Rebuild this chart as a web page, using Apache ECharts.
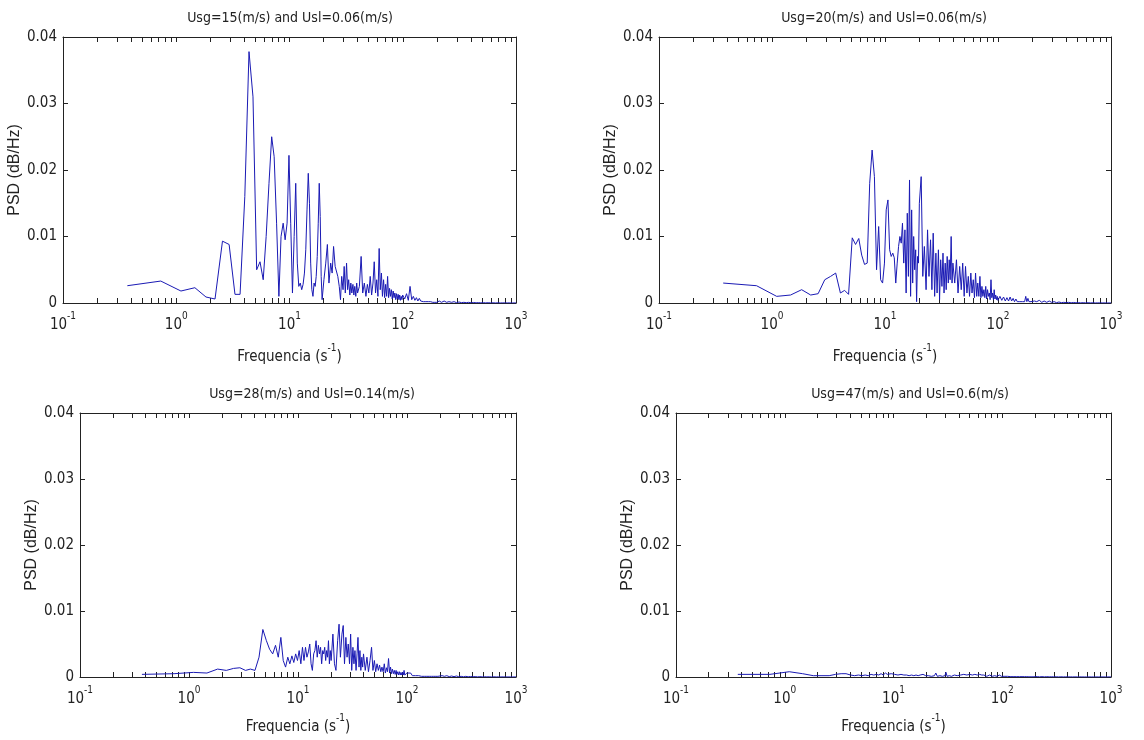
<!DOCTYPE html>
<html>
<head>
<meta charset="utf-8">
<script src="https://cdn.jsdelivr.net/npm/echarts@6/dist/echarts.min.js"></script>
<style>
html,body{margin:0;padding:0;background:#fff;}
#chart{width:1144px;height:740px;}
</style>
</head>
<body>
<div id="chart"></div>
<script>
// ---------- DATA ----------
const titles = [
  'Usg=15(m/s) and Usl=0.06(m/s)',
  'Usg=20(m/s) and Usl=0.06(m/s)',
  'Usg=28(m/s) and Usl=0.14(m/s)',
  'Usg=47(m/s) and Usl=0.6(m/s)'
];
const xName = 'Frequencia (s';
const xNameExp = '-1';
const yName = 'PSD (dB/Hz)';
const xMajorTicks = [0.1, 1, 10, 100, 1000];
const xMinorTicks = [0.2,0.3,0.4,0.5,0.6,0.7,0.8,0.9,1,2,3,4,5,6,7,8,9,10,20,30,40,50,60,70,80,90,100,200,300,400,500,600,700,800,900];
const yTicks = [0, 0.01, 0.02, 0.03, 0.04];

const freq = [
  0.37,0.73,1.10,1.46,1.83,2.20,2.56,2.93,3.30,3.66,4.03,4.39,4.76,5.13,5.49,5.86,6.22,6.59,6.96,7.32,7.69,8.06,8.42,8.79,9.15,9.52,9.89,
  10.25,10.62,10.99,11.35,11.72,12.08,12.45,12.82,13.18,13.55,13.92,14.28,14.65,15.01,15.38,15.75,16.11,16.48,16.85,17.21,17.58,17.94,18.31,18.68,19.04,19.41,19.78,20.14,
  20.9,21.6,22.3,23.1,23.8,24.5,25.3,26.0,26.7,27.5,28.2,28.9,29.7,30.4,31.1,31.9,32.6,33.3,34.1,34.8,35.5,36.3,37.0,37.7,38.5,39.2,39.9,
  41.4,42.9,44.3,45.8,47.3,48.7,50.2,51.6,53.1,54.6,56.0,57.5,58.9,60.4,61.9,63.3,64.8,66.2,67.7,69.2,70.6,72.1,73.5,75.0,76.5,77.9,79.4,80.8,82.3,83.8,85.2,86.7,88.1,89.6,91.1,92.5,94.0,95.4,96.9,98.4,99.8,
  104,108,112,116,120,124,128,132,136,140,144,148,152,156,160,164,168,172,176,180,184,188,192,196,200,
  210,220,232,244,256,270,284,298,314,330,346,364,382,402,422,444,466,490,515,540,568,597,627,659,692,727,764,803,844,887,932,980,1000
];

const psd15 = [
  0.0026,0.0033,0.0018,0.0023,0.0009,0.0006,0.0093,0.0088,0.0013,0.0013,0.0160,0.0378,0.0310,0.0050,0.0062,0.0035,0.0100,0.0180,0.0250,0.0220,0.0120,0.0010,0.0100,0.0120,0.0095,0.0120,0.0222,
  0.0120,0.0015,0.0100,0.0180,0.0060,0.0025,0.0030,0.0020,0.0028,0.0045,0.0080,0.0140,0.0195,0.0150,0.0060,0.0020,0.0010,0.0030,0.0025,0.0040,0.0070,0.0120,0.0180,0.0130,0.0040,0.0005,0.0002,0.0035,
  0.0060,0.0088,0.0030,0.0060,0.0045,0.0085,0.0055,0.0058,0.0040,0.0025,0.0005,0.0040,0.0020,0.0055,0.0015,0.0060,0.0020,0.0035,0.0012,0.0030,0.0015,0.0028,0.0012,0.0025,0.0010,0.0030,0.0015,
  0.0025,0.0070,0.0015,0.0030,0.0010,0.0028,0.0015,0.0040,0.0012,0.0030,0.0062,0.0015,0.0035,0.0010,0.0082,0.0020,0.0045,0.0010,0.0035,0.0008,0.0028,0.0010,0.0040,0.0008,0.0022,0.0010,0.0020,0.0006,0.0018,0.0008,0.0015,0.0005,0.0014,0.0006,0.0013,0.0005,0.0012,0.0004,0.0010,0.0005,0.0012,
  0.0006,0.0014,0.0004,0.0025,0.0005,0.0010,0.0004,0.0008,0.0003,0.0007,0.0003,0.0006,0.0002,0.0005,0.0002,0.0005,0.0002,0.0004,0.0002,0.0004,0.0001,0.0003,0.0001,0.0003,0.0001,
  0.0003,0.0001,0.0003,0.0001,0.0002,0.0001,0.0002,0.00005,0.00015,0.00005,0.0001,0.00005,0.0001,0.00003,0.00008,0.00003,0.00006,0.00002,0.00005,0.00002,0.00004,0.00002,0.00003,0.00001,0.00003,0.00001,0.00002,0.00001,0.00002,0.00001,0.00001,0.00001,0.00001
];

const psd20 = [
  0.0030,0.0026,0.0010,0.0012,0.0020,0.0012,0.0014,0.0035,0.0040,0.0045,0.0015,0.0019,0.0013,0.0098,0.0088,0.0097,0.0072,0.0058,0.0060,0.0180,0.0230,0.0190,0.0050,0.0115,0.0035,0.0030,0.0060,
  0.0140,0.0155,0.0080,0.0070,0.0075,0.0068,0.0030,0.0060,0.0085,0.0100,0.0090,0.0120,0.0060,0.0110,0.0015,0.0135,0.0040,0.0185,0.0010,0.0140,0.0030,0.0100,0.0050,0.0080,0.0002,0.0070,0.0060,0.0150,
  0.0190,0.0040,0.0085,0.0020,0.0110,0.0040,0.0095,0.0020,0.0105,0.0010,0.0075,0.0015,0.0080,0.0005,0.0065,0.0025,0.0075,0.0015,0.0060,0.0020,0.0070,0.0030,0.0065,0.0035,0.0100,0.0030,0.0060,
  0.0030,0.0065,0.0015,0.0055,0.0020,0.0060,0.0010,0.0055,0.0015,0.0040,0.0010,0.0045,0.0015,0.0035,0.0008,0.0045,0.0010,0.0030,0.0010,0.0040,0.0008,0.0025,0.0010,0.0020,0.0008,0.0025,0.0006,0.0020,0.0010,0.0015,0.0005,0.0035,0.0008,0.0015,0.0005,0.0020,0.0006,0.0012,0.0005,0.0010,0.0004,
  0.0010,0.0004,0.0009,0.0003,0.0008,0.0003,0.0009,0.0003,0.0007,0.0002,0.0006,0.0002,0.0005,0.0002,0.0005,0.0002,0.0004,0.0002,0.0010,0.0002,0.0007,0.0002,0.0005,0.0002,0.0004,
  0.0003,0.0002,0.0004,0.0001,0.0003,0.0001,0.0003,0.0001,0.0002,0.00005,0.00015,0.00005,0.0001,0.00005,0.0001,0.00003,0.00008,0.00003,0.00006,0.00002,0.00005,0.00002,0.00004,0.00002,0.00003,0.00001,0.00002,0.00001,0.00002,0.00001,0.00001,0.00001,0.00001
];

const psd28 = [
  0.0004,0.0005,0.0007,0.0006,0.0012,0.0010,0.0013,0.0014,0.0010,0.0012,0.0010,0.0030,0.0072,0.0055,0.0042,0.0035,0.0048,0.0030,0.0060,0.0025,0.0015,0.0030,0.0020,0.0032,0.0022,0.0035,0.0025,
  0.0040,0.0020,0.0045,0.0025,0.0045,0.0030,0.0038,0.0050,0.0020,0.0010,0.0035,0.0040,0.0055,0.0030,0.0048,0.0035,0.0045,0.0020,0.0040,0.0035,0.0045,0.0025,0.0040,0.0030,0.0055,0.0020,0.0040,0.0025,
  0.0065,0.0020,0.0010,0.0055,0.0080,0.0030,0.0065,0.0078,0.0020,0.0060,0.0030,0.0050,0.0020,0.0065,0.0010,0.0045,0.0020,0.0040,0.0010,0.0035,0.0060,0.0015,0.0040,0.0010,0.0030,0.0015,0.0035,
  0.0010,0.0030,0.0008,0.0025,0.0045,0.0010,0.0025,0.0008,0.0020,0.0010,0.0018,0.0008,0.0015,0.0008,0.0020,0.0006,0.0014,0.0008,0.0028,0.0006,0.0015,0.0005,0.0012,0.0005,0.0010,0.0004,0.0010,0.0004,0.0008,0.0003,0.0008,0.0003,0.0007,0.0003,0.0007,0.0003,0.0010,0.0003,0.0006,0.0002,0.0006,
  0.0003,0.0006,0.0002,0.0005,0.0002,0.0005,0.0002,0.0004,0.0001,0.0004,0.0001,0.0003,0.0001,0.0003,0.0001,0.0003,0.0001,0.0002,0.0001,0.0003,0.0001,0.0002,0.0001,0.0002,0.0001,
  0.0002,0.0001,0.0002,0.00005,0.00015,0.00005,0.00015,0.00005,0.0001,0.00003,0.0001,0.00003,0.00008,0.00003,0.00006,0.00002,0.00005,0.00002,0.00004,0.00002,0.00003,0.00001,0.00003,0.00001,0.00002,0.00001,0.00002,0.00001,0.00001,0.00001,0.00001,0.00001,0.00001
];

const psd47 = [
  0.0004,0.0004,0.0008,0.0005,0.0002,0.0002,0.0002,0.0004,0.0005,0.0005,0.0003,0.0002,0.0003,0.0002,0.0003,0.0002,0.0004,0.0003,0.0004,0.0003,0.0005,0.0003,0.0006,0.0004,0.0007,0.0005,0.0008,
  0.0004,0.0007,0.0003,0.0006,0.0004,0.0007,0.0003,0.0005,0.0003,0.0006,0.0002,0.0005,0.0003,0.0006,0.0002,0.0004,0.0003,0.0005,0.0002,0.0004,0.0003,0.0005,0.0002,0.0004,0.0002,0.0003,0.0002,0.0004,
  0.0002,0.0005,0.0001,0.0004,0.0002,0.0006,0.0001,0.0004,0.0002,0.0003,0.0001,0.0004,0.0002,0.0007,0.0001,0.0004,0.0002,0.0003,0.0001,0.0004,0.0002,0.0003,0.0001,0.0003,0.0002,0.0004,0.0001,
  0.0003,0.0001,0.0004,0.0002,0.0003,0.0001,0.0004,0.0001,0.0003,0.0002,0.0004,0.0001,0.0003,0.0001,0.0004,0.0002,0.0003,0.0001,0.0003,0.0001,0.0004,0.0001,0.0003,0.0001,0.0003,0.0001,0.0002,0.0001,0.0003,0.0001,0.0002,0.0001,0.0003,0.0001,0.0002,0.0001,0.0003,0.0001,0.0002,0.0001,0.0003,
  0.0001,0.0003,0.0001,0.0002,0.00005,0.0002,0.00005,0.0002,0.00005,0.00015,0.00005,0.00015,0.00005,0.0001,0.00005,0.0001,0.00005,0.0001,0.00003,0.0001,0.00003,0.00008,0.00003,0.00008,0.00003,
  0.00006,0.00002,0.00005,0.00002,0.00005,0.00002,0.00004,0.00002,0.00004,0.00001,0.00003,0.00001,0.00003,0.00001,0.00002,0.00001,0.00002,0.00001,0.00002,0.00001,0.00001,0.00001,0.00001,0.00001,0.00001,0.00001,0.00001,0.00001,0.00001,0.00001,0.00001,0.00001,0.00001
];

const seriesValues = [psd15, psd20, psd28, psd47];

// ---------- LAYOUT / STYLE ----------
const NARROW = "'Liberation Sans Narrow','DejaVu Sans Condensed','Arial Narrow','Liberation Sans',sans-serif";
const SANS = "'Liberation Sans',Arial,sans-serif";
const INK = '#222';
const LINE = '#1a1ab4';
const grids = [
  {left: 63, top: 37, width: 453, height: 266},
  {left: 659, top: 37, width: 452, height: 266},
  {left: 80, top: 413, width: 436, height: 264},
  {left: 676, top: 413, width: 435, height: 264}
];
const titlePos = [[290, 18], [884, 18], [312, 394], [910, 394]];
const xNameGaps = [40, 40, 36, 36];

const xAxes = [], yAxes = [], series = [], graphics = [];
grids.forEach((g, i) => {
  const common = {
    type: 'log', logBase: 10, gridIndex: i, min: 0.1, max: 1000,
    axisLine: {onZero: false, lineStyle: {color: INK, width: 1}},
    axisTick: {inside: true, length: 5, customValues: xMinorTicks, lineStyle: {color: INK}},
    splitLine: {show: false}, minorTick: {show: false}
  };
  xAxes.push(Object.assign({}, common, {
    position: 'bottom',
    axisLabel: {
      customValues: xMajorTicks, margin: 8,
      formatter: v => '{b|10}{s|' + Math.round(Math.log10(v)) + '}',
      rich: {
        b: {fontFamily: NARROW, fontSize: 15, color: INK, lineHeight: 22, verticalAlign: 'bottom'},
        s: {fontFamily: NARROW, fontSize: 10, color: INK, lineHeight: 12, verticalAlign: 'top'}
      }
    },
    name: '{n|' + xName + '}{s|' + xNameExp + '}{n|)}',
    nameLocation: 'middle', nameGap: xNameGaps[i],
    nameTextStyle: {
      rich: {
        n: {fontFamily: NARROW, fontSize: 15, color: INK, lineHeight: 22, verticalAlign: 'bottom'},
        s: {fontFamily: NARROW, fontSize: 10, color: INK, lineHeight: 12, verticalAlign: 'top'}
      }
    }
  }));
  xAxes.push(Object.assign({}, common, {
    position: 'top', axisLabel: {show: false}
  }));
  const ycommon = {
    type: 'value', gridIndex: i, min: 0, max: 0.04, interval: 0.01,
    axisLine: {show: true, onZero: false, lineStyle: {color: INK, width: 1}},
    axisTick: {show: true, inside: true, length: 5, lineStyle: {color: INK}},
    splitLine: {show: false}
  };
  yAxes.push(Object.assign({}, ycommon, {
    position: 'left',
    axisLabel: {
      margin: 6, fontFamily: NARROW, fontSize: 15, color: INK,
      formatter: v => (v === 0 ? '0' : v.toFixed(2))
    },
    name: yName, nameLocation: 'middle', nameGap: 38, nameRotate: 90,
    nameTextStyle: {fontFamily: SANS, fontSize: 16, color: INK}
  }));
  yAxes.push(Object.assign({}, ycommon, {
    position: 'right', axisLabel: {show: false}
  }));
  const vals = seriesValues[i];
  series.push({
    type: 'line', xAxisIndex: 2 * i, yAxisIndex: 2 * i,
    data: freq.map((f, k) => [f, vals[k]]),
    symbol: 'none', showSymbol: false, silent: true,
    lineStyle: {width: 1, color: LINE}
  });
  graphics.push({
    type: 'text', x: titlePos[i][0], y: titlePos[i][1],
    style: {text: titles[i], font: '14px ' + NARROW, fill: INK, align: 'center', verticalAlign: 'middle'}
  });
});

const chart = echarts.init(document.getElementById('chart'), null, {renderer: 'canvas'});
chart.setOption({
  backgroundColor: '#fff',
  animation: false,
  grid: grids,
  xAxis: xAxes,
  yAxis: yAxes,
  series: series,
  graphic: graphics
});
</script>
</body>
</html>
